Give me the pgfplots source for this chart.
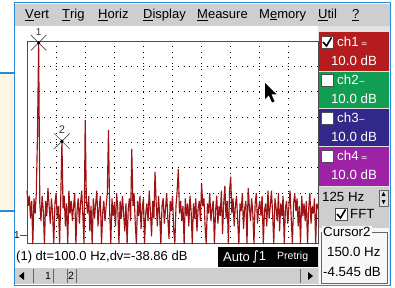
\documentclass[border=0pt]{standalone}
\usepackage{fontspec}
\setmainfont{Liberation Sans}
\newfontfamily\symfont{DejaVu Sans}
\usepackage{pgfplots}
\pgfplotsset{compat=1.18}
\definecolor{cred}{RGB}{158,18,20}
\definecolor{bred}{RGB}{180,28,30}
\definecolor{bgreen}{RGB}{18,158,82}
\definecolor{bblue}{RGB}{50,40,138}
\definecolor{bpurp}{RGB}{158,34,166}
\definecolor{fblue}{RGB}{38,140,215}
\definecolor{mgray}{RGB}{206,206,206}
\definecolor{cream}{RGB}{253,246,228}
\newcommand{\ui}{\fontsize{13}{14}\selectfont}
\newcommand{\uib}{\fontsize{13.3}{14}\selectfont}
\newcommand{\uis}{\fontsize{10.5}{11}\selectfont}
\begin{document}
\begin{tikzpicture}
\begin{scope}[x=1pt,y=-1pt]
\path[use as bounding box] (0,0) rectangle (395,287);
\fill[white] (0,0) rectangle (395,287);
% partial window on the left
\fill[cream] (0,73) rectangle (14,211);
\draw[fblue,line width=1.4pt] (-2,73) -- (14,73);
\draw[fblue,line width=1.4pt] (-2,211) -- (14,211);
% menu bar
\fill[mgray] (15,4) rectangle (390,26);
\node[anchor=west,inner sep=0] at (25,15) {\ui\underline{V}ert};
\node[anchor=west,inner sep=0] at (62,15) {\ui\underline{T}rig};
\node[anchor=west,inner sep=0] at (98,15) {\ui\underline{H}oriz};
\node[anchor=west,inner sep=0] at (143,15) {\ui\underline{D}isplay};
\node[anchor=west,inner sep=0] at (197,15) {\ui\underline{M}easure};
\node[anchor=west,inner sep=0] at (259,15) {\ui M\underline{e}mory};
\node[anchor=west,inner sep=0] at (318,15) {\ui\underline{U}til};
\node[anchor=west,inner sep=0] at (352,15) {\ui\underline{?}};
% right panel
\fill[mgray!60] (318,26) rectangle (390,285);
\fill[bred] (319,32) rectangle (389,70.5);
\fill[bgreen] (319,71.5) rectangle (389,108);
\fill[bblue] (319,109) rectangle (389,145.5);
\fill[bpurp] (319,146.5) rectangle (389,186);
\fill[mgray] (319,187) rectangle (389,228);
\fill[white!94!gray] (319,228) rectangle (389,285);
\foreach \y in {42,80,118,156} {
  \filldraw[fill=white,draw=black!70,line width=0.6pt] (321,\y-6) rectangle (333,\y+6);
}
\draw[black,line width=1.6pt] (323,42) -- (326.5,46) -- (331.5,37.5);
\node[anchor=west,inner sep=0,white] at (337,42) {\uib ch1\,{\symfont\fontsize{8}{8}\selectfont ≃}};
\node[anchor=west,inner sep=0,white] at (337,80) {\uib ch2{\symfont\fontsize{8}{8}\selectfont \textasciitilde}};
\node[anchor=west,inner sep=0,white] at (337,118) {\uib ch3{\symfont\fontsize{8}{8}\selectfont \textasciitilde}};
\node[anchor=west,inner sep=0,white] at (337,156) {\uib ch4\,{\symfont\fontsize{8}{8}\selectfont ≃}};
\foreach \y in {61,99,137,175} {
  \node[white,inner sep=0] at (354,\y) {\uib 10.0 dB};
}
\node[anchor=west,inner sep=0] at (322,197) {\uib 125 Hz};
\filldraw[fill=mgray!70,draw=black!60] (379,190) rectangle (388,206);
\fill[black] (383.5,192) -- (381.5,196) -- (385.5,196) -- cycle;
\fill[black] (383.5,204) -- (381.5,200) -- (385.5,200) -- cycle;
\filldraw[fill=white,draw=black!70,line width=0.6pt] (335,208) rectangle (347,220);
\draw[black,line width=1.6pt] (337,214) -- (340.5,218) -- (345.5,209.5);
\node[anchor=west,inner sep=0] at (350,214) {\uib FFT};
\draw[black!60,line width=0.6pt] (321,232) rectangle (387,283);
\node[anchor=west,fill=white!94!gray,inner sep=1pt] at (322,232) {\uib Cursor2};
\node[anchor=west,inner sep=0] at (327,252) {\uib 150.0 Hz};
\node[anchor=west,inner sep=0] at (323,272) {\uib -4.545 dB};
% bottom status line
\node[anchor=west,inner sep=0] at (16,257) {\ui (1) dt=100.0 Hz,dv=-38.86 dB};
\fill[black] (218,247) rectangle (318,267);
\node[anchor=west,inner sep=0,white] at (223,257) {\ui Auto};
\node[anchor=west,inner sep=0,white] at (252,257) {\ui{\symfont ∫}1};
\node[anchor=west,inner sep=0,white] at (277,257) {\uis Pretrig};
% scrollbar
\fill[mgray] (15,268) rectangle (318,284);
\fill[black] (19,276) -- (24,272) -- (24,280) -- cycle;
\draw[black!60] (33,269) -- (33,283);
\draw[black!60] (53,269) -- (53,283);
\draw[black!60] (67,269) -- (67,283);
\draw[black!60] (76,269) -- (76,283);
\node[inner sep=0] at (48,276) {\uis 1};
\node[inner sep=0] at (71,276) {\uis 2};
\draw[black!60] (300,269) -- (300,283);
\fill[black] (313,276) -- (308,272) -- (308,280) -- cycle;
% outer frame
\draw[fblue,line width=1.6pt] (14.5,2.5) rectangle (390.5,285.5);
\end{scope}

\begin{axis}[
  at={(27pt,-41pt)}, anchor=north west,
  scale only axis, width=291pt, height=203pt,
  xmin=0, xmax=1250, ymin=-45, ymax=35,
  xtick={125,250,...,1125}, ytick={-35,-25,...,25},
  xticklabels={}, yticklabels={},
  major tick length=0pt,
  grid=major,
  major grid style={black, line width=1pt, dash pattern=on 1pt off 4.8pt},
  axis line style={black!70, line width=1pt},
  clip=false,
]
\addplot[color=cred, line width=1.15pt, mark=none, line join=bevel] coordinates {
(0,-24) (5,-30) (10,-26) (15,-35) (20,-28) (25,-45) (30,-27) (35,-33) (40,-25) (45,-2)
(50,34.3)
(55,-29) (60,-36) (65,-26) (70,-32) (75,-45) (80,-28) (85,-34) (90,-23) (95,-30)
(100,-37) (105,-27) (110,-33) (115,-45) (120,-29) (125,-25) (130,-35) (135,-30) (140,-45) (145,-27)
(150,-4.5)
(155,-31) (160,-26) (165,-38) (170,-29) (175,-45) (180,-24) (185,-33) (190,-28) (195,-36)
(200,-30) (205,-25) (210,-45) (215,-32) (220,-27) (225,-37) (230,-29) (235,-24) (240,-34) (245,-45)
(250,3.9)
(255,-28) (260,-33) (265,-26) (270,-40) (275,-30) (280,-45) (285,-27) (290,-35) (295,-29)
(300,-24) (305,-38) (310,-31) (315,-26) (320,-45) (325,-33) (330,-28) (335,-36) (340,-30) (345,-25)
(350,0)
(355,-32) (360,-45) (365,-27) (370,-34) (375,-29) (380,-38) (385,-25) (390,-31) (395,-45)
(400,-28) (405,-35) (410,-26) (415,-33) (420,-40) (425,-29) (430,-45) (435,-31) (440,-27) (445,-36)
(450,-7.5)
(455,-30) (460,-25) (465,-37) (470,-45) (475,-28) (480,-34) (485,-26) (490,-39) (495,-31)
(500,-27) (505,-45) (510,-33) (515,-29) (520,-36) (525,-24) (530,-32) (535,-42) (540,-28) (545,-35)
(550,-16.6)
(555,-29) (560,-38) (565,-26) (570,-34) (575,-45) (580,-30) (585,-27) (590,-37) (595,-31)
(600,-25) (605,-35) (610,-43) (615,-28) (620,-32) (625,-26) (630,-39) (635,-45) (640,-30) (645,-24)
(650,-15.4)
(655,-33) (660,-28) (665,-36) (670,-30) (675,-45) (680,-27) (685,-34) (690,-29) (695,-38)
(700,-26) (705,-32) (710,-45) (715,-29) (720,-35) (725,-27) (730,-40) (735,-31) (740,-28) (745,-36)
(750,-21)
(755,-30) (760,-27) (765,-38) (770,-45) (775,-29) (780,-33) (785,-25) (790,-36) (795,-31)
(800,-28) (805,-45) (810,-32) (815,-26) (820,-37) (825,-30) (830,-34) (835,-24) (840,-41) (845,-29)
(850,-22)
(855,-35) (860,-28) (865,-45) (870,-24) (875,-18.5) (880,-33) (885,-27) (890,-38) (895,-30)
(900,-26) (905,-36) (910,-45) (915,-29) (920,-32) (925,-25) (930,-39) (935,-31) (940,-28) (945,-45)
(950,-23)
(955,-30) (960,-36) (965,-27) (970,-33) (975,-45) (980,-29) (985,-25) (990,-37) (995,-31)
(1000,-28) (1005,-34) (1010,-26) (1015,-45) (1020,-32) (1025,-29) (1030,-38) (1035,-24) (1040,-35) (1045,-30)
(1050,-24)
(1055,-33) (1060,-45) (1065,-27) (1070,-31) (1075,-36) (1080,-25) (1085,-40) (1090,-29) (1095,-34)
(1100,-26) (1105,-45) (1110,-31) (1115,-28) (1120,-37) (1125,-30) (1130,-24) (1135,-35) (1140,-45) (1145,-29)
(1150,-25)
(1155,-32) (1160,-27) (1165,-38) (1170,-30) (1175,-45) (1180,-26) (1185,-34) (1190,-29) (1195,-36)
(1200,-28) (1205,-45) (1210,-31) (1215,-25) (1220,-37) (1225,-30) (1230,-33) (1235,-27) (1240,-45) (1245,-29) (1250,-31)
};
\addplot[only marks, mark=x, mark size=11pt, mark options={black!70, line width=0.6pt}] coordinates {(50,34.3) (150,-4.5)};
\addplot[only marks, mark=*, mark size=1.5pt, black] coordinates {(50,34.3) (150,-4.5)};
\node[inner sep=0, black!80] at (axis cs:50,38.6) {\fontsize{10}{10}\selectfont 1};
\node[inner sep=0, black!80] at (axis cs:150,0) {\fontsize{11}{11}\selectfont 2};
\end{axis}

\begin{scope}[x=1pt,y=-1pt]
\node[inner sep=0] at (17,235) {\fontsize{10}{10}\selectfont 1};
\draw[black!70,line width=0.8pt] (20,235) -- (27,235);
\fill[black] (265,83) -- (265,99) -- (268.8,95.3) -- (272,102.5) -- (274.5,101.3) -- (271.4,94.3) -- (276.6,94.3) -- cycle;
\end{scope}
\end{tikzpicture}
\end{document}
